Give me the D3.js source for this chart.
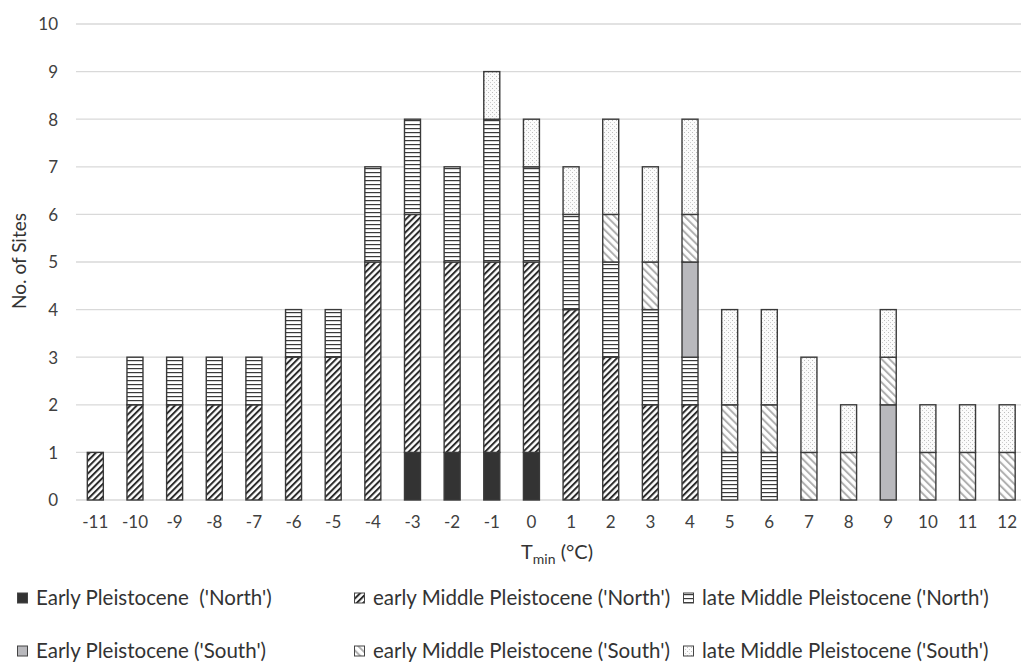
<!DOCTYPE html>
<html><head><meta charset="utf-8">
<script src="https://cdn.jsdelivr.net/npm/d3@7"></script>
<style>
body{margin:0;background:#fff;}
svg{display:block;font-family:Lato,"Open Sans",sans-serif;}
</style></head>
<body><svg id="chart" width="1021" height="664"></svg>
<script>
const categories = ["-11","-10","-9","-8","-7","-6","-5","-4","-3","-2","-1","0","1","2","3","4","5","6","7","8","9","10","11","12"];
const earlyPleistoceneNorth      = [0,0,0,0,0,0,0,0,1,1,1,1,0,0,0,0,0,0,0,0,0,0,0,0];
const earlyMiddlePleistoceneNorth= [1,2,2,2,2,3,3,5,5,4,4,4,4,3,2,2,0,0,0,0,0,0,0,0];
const lateMiddlePleistoceneNorth = [0,1,1,1,1,1,1,2,2,2,3,2,2,2,2,1,1,1,0,0,0,0,0,0];
const earlyPleistoceneSouth      = [0,0,0,0,0,0,0,0,0,0,0,0,0,0,0,2,0,0,0,0,2,0,0,0];
const earlyMiddlePleistoceneSouth= [0,0,0,0,0,0,0,0,0,0,0,0,0,1,1,1,1,1,1,1,1,1,1,1];
const lateMiddlePleistoceneSouth = [0,0,0,0,0,0,0,0,0,0,1,1,1,2,2,2,2,2,2,1,1,1,1,1];
const seriesNames = ["Early Pleistocene  ('North')","early Middle Pleistocene ('North')","late Middle Pleistocene ('North')",
                     "Early Pleistocene ('South')","early Middle Pleistocene ('South')","late Middle Pleistocene ('South')"];
const yTicks = [0,1,2,3,4,5,6,7,8,9,10];

const seriesValues = [earlyPleistoceneNorth, earlyMiddlePleistoceneNorth, lateMiddlePleistoceneNorth,
                      earlyPleistoceneSouth, earlyMiddlePleistoceneSouth, lateMiddlePleistoceneSouth];
const keys = ["s0","s1","s2","s3","s4","s5"];
const table = categories.map((c,i)=>{const o={cat:c}; keys.forEach((k,j)=>o[k]=seriesValues[j][i]); return o;});

const svg = d3.select("#chart");
const defs = svg.append("defs");
const fills = ["#333333","url(#pDiagN)","url(#pHoriz)","#b9b9bd","url(#pDiagS)","url(#pDots)"];
let p = defs.append("pattern").attr("id","pDiagN").attr("patternUnits","userSpaceOnUse")
  .attr("width",4.5).attr("height",4.5).attr("patternTransform","rotate(45)");
p.append("rect").attr("width",4.5).attr("height",4.5).attr("fill","#fff");
p.append("rect").attr("x",0).attr("width",2).attr("height",4.5).attr("fill","#2b2b2b");
p = defs.append("pattern").attr("id","pHoriz").attr("patternUnits","userSpaceOnUse")
  .attr("width",8).attr("height",4);
p.append("rect").attr("width",8).attr("height",4).attr("fill","#fff");
p.append("rect").attr("y",0).attr("width",8).attr("height",1.2).attr("fill","#3a3a3a");
p = defs.append("pattern").attr("id","pDiagS").attr("patternUnits","userSpaceOnUse")
  .attr("width",5.5).attr("height",5.5).attr("patternTransform","rotate(-45)");
p.append("rect").attr("width",5.5).attr("height",5.5).attr("fill","#fff");
p.append("rect").attr("x",0).attr("width",2).attr("height",5.5).attr("fill","#b0b0b0");
p = defs.append("pattern").attr("id","pDots").attr("patternUnits","userSpaceOnUse")
  .attr("width",4).attr("height",4);
p.append("rect").attr("width",4).attr("height",4).attr("fill","#fbfbfb");
p.append("rect").attr("x",0).attr("y",0).attr("width",1).attr("height",1).attr("fill","#bdbdbd");
p.append("rect").attr("x",2).attr("y",2).attr("width",1).attr("height",1).attr("fill","#cccccc");

const x = d3.scaleBand().domain(categories).range([75.5,1027]).paddingInner(0.6).paddingOuter(0.3);
const y = d3.scaleLinear().domain([0,10]).range([500,24]);

svg.append("g").selectAll("line").data(yTicks).join("line")
  .attr("x1",76).attr("x2",1021).attr("y1",d=>y(d)).attr("y2",d=>y(d))
  .attr("stroke","#d9d9d9").attr("stroke-width",1.3);

const yAxis = d3.axisLeft(y).tickValues(yTicks).tickSize(0).tickPadding(0);
const ga = svg.append("g").attr("transform","translate(58,0)").call(yAxis);
ga.select(".domain").remove();
ga.selectAll("text").attr("font-size",17).attr("fill","#404040").attr("font-family","Lato,'Open Sans',sans-serif").attr("dy","0.35em");

const xAxis = d3.axisBottom(x).tickSize(0).tickPadding(0);
const gx = svg.append("g").attr("transform","translate(0,516)").call(xAxis);
gx.select(".domain").remove();
gx.selectAll("text").attr("font-size",17).attr("fill","#404040").attr("font-family","Lato,'Open Sans',sans-serif").attr("dy","0.71em");

const stack = d3.stack().keys(keys)(table);
const bw = 16;
svg.append("g").selectAll("g").data(stack).join("g")
  .attr("fill",(d,i)=>fills[i])
  .selectAll("rect").data(d=>d.filter(s=>s[1]-s[0]>0)).join("rect")
  .attr("x",d=>x(d.data.cat)+x.bandwidth()/2-bw/2)
  .attr("width",bw)
  .attr("y",d=>y(d[1]))
  .attr("height",d=>y(d[0])-y(d[1]))
  .attr("stroke","#3a3a3a").attr("stroke-width",1.4);

svg.append("text").attr("transform","translate(26,261) rotate(-90)").attr("text-anchor","middle")
  .attr("font-size",19).attr("fill","#333").text("No. of Sites");
const xt = svg.append("text").attr("x",557).attr("y",559).attr("text-anchor","middle")
  .attr("font-size",20).attr("fill","#333");
xt.append("tspan").text("T");
xt.append("tspan").attr("font-size",14).attr("dy",5).text("min");
xt.append("tspan").attr("dy",-5).text(" (°C)");

const legPos = [[17,598],[354,598],[683,598],[17,651],[354,651],[683,651]];
const lg = svg.append("g").selectAll("g").data(seriesNames).join("g")
  .attr("transform",(d,i)=>`translate(${legPos[i][0]},${legPos[i][1]})`);
lg.append("rect").attr("x",0.5).attr("y",-5).attr("width",10).attr("height",10)
  .attr("fill",(d,i)=>fills[i]).attr("stroke","#444").attr("stroke-width",1);
lg.append("text").attr("x",19).attr("y",0).attr("dy","0.35em").attr("font-size",20.5).attr("fill","#333")
  .style("white-space","pre").text(d=>d);
</script></body></html>
